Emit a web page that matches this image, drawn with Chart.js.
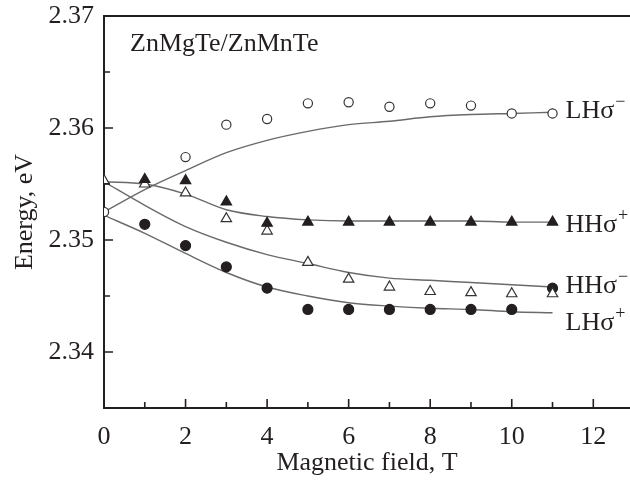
<!DOCTYPE html>
<html>
<head>
<meta charset="utf-8">
<script src="https://cdn.jsdelivr.net/npm/chart.js@4.4.1/dist/chart.umd.min.js"></script>
<style>
  html, body { margin: 0; padding: 0; background: #fff; }
  #wrap { width: 630px; height: 481px; }
</style>
</head>
<body>
<div id="wrap"><canvas id="chart"></canvas></div>
<script>
// fitted curves, sampled at every tesla
const fitField = [0, 1, 2, 3, 4, 5, 6, 7, 8, 9, 10, 11];
const lhMinusFit = [2.3525, 2.3545, 2.3562, 2.3578, 2.3589, 2.3597, 2.3603, 2.3606, 2.3610, 2.3612, 2.3613, 2.3614];
const hhPlusFit = [2.3552, 2.3550, 2.3541, 2.3527, 2.3521, 2.3518, 2.3517, 2.3517, 2.3517, 2.3517, 2.3516, 2.3516];
const hhMinusFit = [2.3552, 2.3531, 2.3512, 2.3498, 2.3487, 2.3479, 2.3471, 2.3466, 2.3464, 2.3462, 2.3460, 2.3458];
const lhPlusFit = [2.3522, 2.3506, 2.3488, 2.3471, 2.3458, 2.3450, 2.3444, 2.3441, 2.3439, 2.3438, 2.3436, 2.3435];

// measured points
const lhMinusB = [0, 2, 3, 4, 5, 6, 7, 8, 9, 10, 11];
const lhMinusE = [2.3525, 2.3574, 2.3603, 2.3608, 2.3622, 2.3623, 2.3619, 2.3622, 2.3620, 2.3613, 2.3613];
const hhPlusB = [1, 2, 3, 4, 5, 6, 7, 8, 9, 10, 11];
const hhPlusE = [2.3554, 2.3553, 2.3534, 2.3515, 2.3516, 2.3516, 2.3516, 2.3516, 2.3516, 2.3516, 2.3516];
const hhMinusB = [0, 1, 2, 3, 4, 5, 6, 7, 8, 9, 10, 11];
const hhMinusE = [2.3553, 2.3550, 2.3542, 2.3519, 2.3508, 2.3480, 2.3465, 2.3458, 2.3454, 2.3453, 2.3452, 2.3452];
const lhPlusB = [1, 2, 3, 4, 5, 6, 7, 8, 9, 10, 11];
const lhPlusE = [2.3514, 2.3495, 2.3476, 2.3457, 2.3438, 2.3438, 2.3438, 2.3438, 2.3438, 2.3438, 2.3457];

const xTicks = [0, 2, 4, 6, 8, 10, 12];
const yTicks = [2.34, 2.35, 2.36, 2.37];

const serif = '"Liberation Serif", "Times New Roman", serif';
const ink = "#231f20";

function pts(xs, ys) {
  return xs.map((x, i) => ({ x: x, y: ys[i] }));
}

function marker(xs, ys, style, filled, r) {
  return {
    data: pts(xs, ys),
    showLine: false,
    pointStyle: style,
    pointRadius: r,
    pointBackgroundColor: filled ? ink : "#fff",
    pointBorderColor: filled ? ink : "#333",
    pointBorderWidth: 1.2,
  };
}

function curve(ys) {
  return {
    data: pts(fitField, ys),
    showLine: true,
    pointRadius: 0,
    borderColor: "#6a6a6a",
    borderWidth: 1.4,
    cubicInterpolationMode: "monotone",
  };
}

// series names at the right end, anchored in data units
const seriesNames = [
  { main: "LH\u03c3", sup: "\u2212", y: 2.3609 },
  { main: "HH\u03c3", sup: "+", y: 2.3507 },
  { main: "HH\u03c3", sup: "\u2212", y: 2.3453 },
  { main: "LH\u03c3", sup: "+", y: 2.3420 },
];

const decor = {
  id: "decor",
  afterDraw(chart) {
    const { ctx, chartArea: a } = chart;
    const xs = chart.scales.x, ys = chart.scales.y;
    ctx.save();
    ctx.strokeStyle = ink;
    ctx.lineWidth = 2;
    ctx.beginPath();
    ctx.moveTo(a.left - 1, a.top);
    ctx.lineTo(chart.width, a.top);
    ctx.stroke();

    // inward ticks
    ctx.lineWidth = 1.6;
    ctx.beginPath();
    for (let v = 1; v <= 12; v++) {
      const px = xs.getPixelForValue(v);
      const len = v % 2 ? 6 : 9;
      ctx.moveTo(px, a.bottom);
      ctx.lineTo(px, a.bottom - len);
    }
    for (let k = 1; k < 7; k++) {
      const py = ys.getPixelForValue(2.335 + k * 0.005);
      const len = k % 2 ? 9 : 6;
      ctx.moveTo(a.left, py);
      ctx.lineTo(a.left + len, py);
    }
    ctx.stroke();

    ctx.fillStyle = ink;
    ctx.textBaseline = "alphabetic";
    ctx.textAlign = "left";
    ctx.font = "26px " + serif;
    ctx.fillText("ZnMgTe/ZnMnTe", 130, 51);

    const lx = xs.getPixelForValue(11) + 13;
    seriesNames.forEach((s) => {
      const py = ys.getPixelForValue(s.y);
      ctx.font = "26px " + serif;
      ctx.fillText(s.main, lx, py);
      const w = ctx.measureText(s.main).width;
      ctx.font = "18px " + serif;
      ctx.fillText(s.sup, lx + w + 1, py - 11);
    });
    ctx.restore();
  },
};

new Chart(document.getElementById("chart"), {
  type: "scatter",
  data: {
    datasets: [
      marker(lhMinusB, lhMinusE, "circle", false, 4.6),
      marker(hhPlusB, hhPlusE, "triangle", true, 6),
      marker(hhMinusB, hhMinusE, "triangle", false, 6),
      marker(lhPlusB, lhPlusE, "circle", true, 5),
      curve(lhMinusFit),
      curve(hhPlusFit),
      curve(hhMinusFit),
      curve(lhPlusFit),
    ],
  },
  options: {
    responsive: true,
    maintainAspectRatio: false,
    animation: false,
    layout: { autoPadding: false, padding: { top: 16, right: 0, left: 0, bottom: 0 } },
    plugins: { legend: { display: false }, tooltip: { enabled: false } },
    scales: {
      x: {
        type: "linear",
        min: 0,
        max: 12.9,
        afterBuildTicks: (s) => { s.ticks = xTicks.map((v) => ({ value: v })); },
        afterFit: (s) => { s.height = 73; s.paddingLeft = 0; s.paddingRight = 0; },
        grid: { display: false, drawTicks: false },
        border: { display: true, width: 2, color: ink },
        ticks: { color: ink, padding: 14, maxRotation: 0, font: { family: serif, size: 26 } },
        title: {
          display: true,
          text: "Magnetic field, T",
          color: ink,
          font: { family: serif, size: 26 },
          padding: { top: 0, bottom: 2 },
        },
      },
      y: {
        type: "linear",
        min: 2.335,
        max: 2.37,
        afterBuildTicks: (s) => { s.ticks = yTicks.map((v) => ({ value: v })); },
        afterFit: (s) => { s.width = 104; s.paddingTop = 0; s.paddingBottom = 0; },
        grid: { display: false, drawTicks: false },
        border: { display: true, width: 2, color: ink },
        ticks: {
          color: ink,
          padding: 10,
          font: { family: serif, size: 26 },
          callback: (v) => v.toFixed(2),
        },
        title: {
          display: true,
          text: "Energy, eV",
          color: ink,
          font: { family: serif, size: 26 },
          padding: { top: 10, bottom: 0 },
        },
      },
    },
  },
  plugins: [decor],
});
</script>
</body>
</html>
